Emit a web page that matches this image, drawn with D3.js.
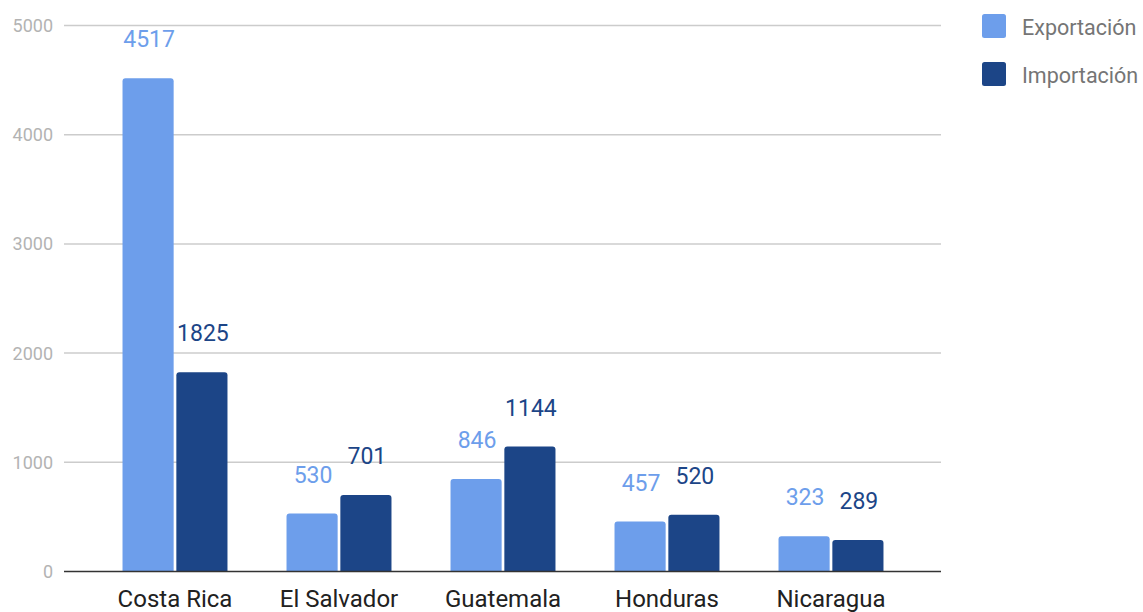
<!DOCTYPE html>
<html><head><meta charset="utf-8">
<script src="https://cdn.jsdelivr.net/npm/d3@7"></script>
<style>body{margin:0;background:#fff;}svg{display:block;font-family:Roboto,sans-serif;}</style>
</head><body><svg id="c" width="1143" height="612"></svg>
<script>
const categories = ["Costa Rica","El Salvador","Guatemala","Honduras","Nicaragua"];
const seriesNames = ["Exportación","Importación"];
const exportacion = [4517,530,846,457,323];
const importacion = [1825,701,1144,520,289];
const yTicks = [0,1000,2000,3000,4000,5000];
const colors = ["#6d9eeb","#1c4587"];

const svg = d3.select("#c");
const gridL = 64, gridR = 941;
const x = d3.scaleBand().domain(categories).range([93,913]).paddingInner(0.36).paddingOuter(0.18);
const y = d3.scaleLinear().domain([0,5000]).range([571.5,25.5]);
const x1 = d3.scaleBand().domain(seriesNames).range([0,x.bandwidth()]).paddingInner(0.05);

// grid
svg.append("g").selectAll("line").data(yTicks.filter(d=>d>0)).join("line")
  .attr("x1",gridL).attr("x2",gridR).attr("y1",d=>y(d)).attr("y2",d=>y(d))
  .attr("stroke","#cccccc").attr("stroke-width",1.5);
// y labels
svg.append("g").selectAll("text").data(yTicks).join("text")
  .attr("x",53).attr("y",d=>y(d)).attr("dy","0.36em").attr("text-anchor","end")
  .attr("fill","#b3b3b3").attr("font-size",18).text(d=>d);

const data = categories.map((c,i)=>({c, vals:[exportacion[i],importacion[i]]}));
const g = svg.append("g");
data.forEach(d=>{
  d.vals.forEach((v,j)=>{
    const bx = x(d.c)+x1(seriesNames[j]);
    const bw = x1.bandwidth();
    const top = y(v), bot = y(0);
    const r = 3;
    g.append("path").attr("fill",colors[j])
      .attr("d",`M${bx},${bot}V${top+r}Q${bx},${top} ${bx+r},${top}H${bx+bw-r}Q${bx+bw},${top} ${bx+bw},${top+r}V${bot}Z`);
    g.append("text").attr("x",bx+bw/2+1).attr("y",top-31)
      .attr("text-anchor","middle").attr("fill",colors[j]).attr("font-size",23).text(v);
  });
});
// baseline
svg.append("line").attr("x1",gridL).attr("x2",gridR).attr("y1",y(0)).attr("y2",y(0))
  .attr("stroke","#333").attr("stroke-width",1.5);
// x labels
svg.append("g").selectAll("text").data(categories).join("text")
  .attr("x",d=>x(d)+x.bandwidth()/2).attr("y",607).attr("text-anchor","middle")
  .attr("fill","#212121").attr("font-size",24).text(d=>d);
// legend
const lg = svg.append("g");
seriesNames.forEach((s,i)=>{
  lg.append("rect").attr("x",982).attr("y",14+i*48).attr("width",24).attr("height",24).attr("rx",2.5)
    .attr("fill",colors[i]);
  lg.append("text").attr("x",1022).attr("y",35+i*48)
    .attr("fill","#757575").attr("font-size",21.5).text(s);
});
</script></body></html>
